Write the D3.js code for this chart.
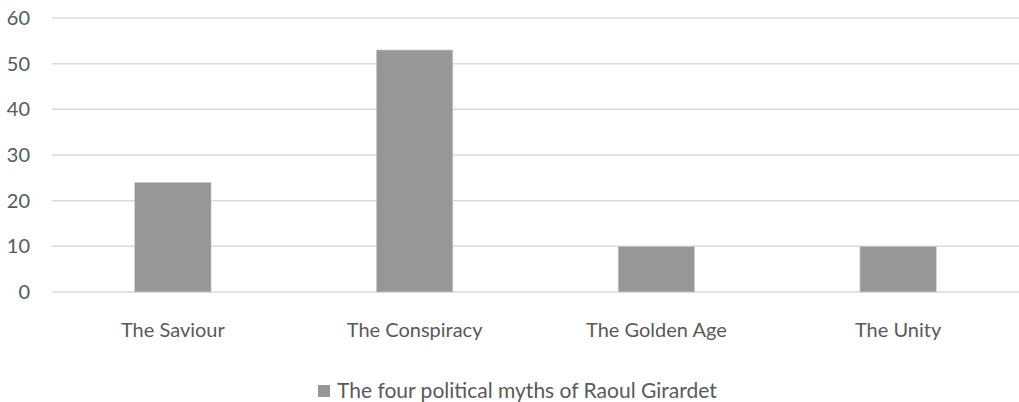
<!DOCTYPE html>
<html><head><meta charset="utf-8">
<script src="https://cdn.jsdelivr.net/npm/d3@7"></script>
<style>body{margin:0;background:#fff}svg{display:block}text{font-family:Lato,sans-serif;fill:#595959}</style>
</head><body><svg id="c" width="1019" height="402"></svg>
<script>
const categories = ["The Saviour","The Conspiracy","The Golden Age","The Unity"];
const values = [24,53,10,10];
const yTicks = [0,10,20,30,40,50,60];
const seriesName = "The four political myths of Raoul Girardet";

const svg = d3.select("#c");
const x = d3.scaleBand().domain(categories).range([52,1019]).padding(0);
const barW = x.bandwidth()*0.316;
const y = d3.scaleLinear().domain([0,60]).range([292,18]);

svg.append("g").selectAll("line").data(yTicks).join("line")
  .attr("x1",52).attr("x2",1019).attr("y1",d=>y(d)).attr("y2",d=>y(d))
  .attr("stroke","#d9d9d9").attr("stroke-width",1.5);

svg.append("g").selectAll("text").data(yTicks).join("text")
  .attr("x",30).attr("y",d=>y(d)).attr("dy","0.35em").attr("text-anchor","end")
  .style("font-size","20px").text(d=>d);

svg.append("g").selectAll("rect").data(values).join("rect")
  .attr("x",(d,i)=>x(categories[i])+x.bandwidth()/2-barW/2).attr("width",barW)
  .attr("y",d=>y(d)).attr("height",d=>y(0)-y(d))
  .attr("fill","#979797").attr("stroke","#d0d0d0").attr("stroke-width",0.6);

svg.append("g").selectAll("text").data(categories).join("text")
  .attr("x",d=>x(d)+x.bandwidth()/2).attr("y",330).attr("dy","0.35em").attr("text-anchor","middle")
  .style("font-size","20px").text(d=>d);

const lg = svg.append("g");
lg.append("rect").attr("x",318).attr("y",385).attr("width",12).attr("height",12).attr("fill","#979797");
lg.append("text").attr("x",337).attr("y",391).attr("dy","0.35em").style("font-size","21px").text(seriesName);
</script></body></html>
